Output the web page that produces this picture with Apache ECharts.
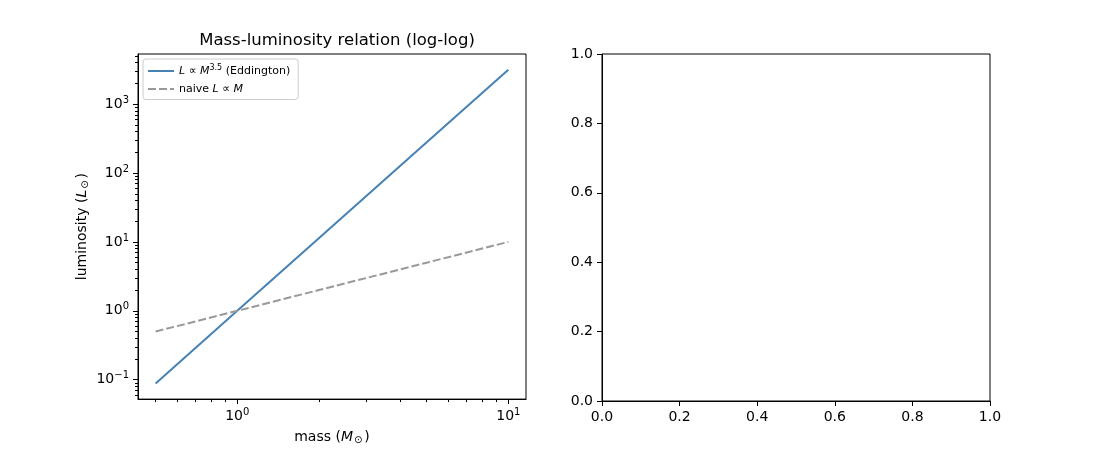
<!DOCTYPE html>
<html>
<head>
<meta charset="utf-8">
<script src="https://cdn.jsdelivr.net/npm/echarts@6/dist/echarts.min.js"></script>
<style>
  html, body { margin: 0; padding: 0; background: #fff; }
  #chart { width: 1100px; height: 450px; }
</style>
</head>
<body>
<div id="chart"></div>
<script>
// data
var massValues = [0.5, 1, 2, 5, 10];
var lumEddington = [0.088, 1, 11.3, 280, 3162];
var lumNaive = [0.5, 1, 2, 5, 10];

// tick values
var xMajorTicks = [1, 10];
var xMinorTicks = [0.5, 0.6, 0.7, 0.8, 0.9, 2, 3, 4, 5, 6, 7, 8, 9];
var yMajorTicks = [0.1, 1, 10, 100, 1000];
var yMinorTicks = [0.06, 0.07, 0.08, 0.09, 0.2, 0.3, 0.4, 0.5, 0.6, 0.7, 0.8, 0.9,
  2, 3, 4, 5, 6, 7, 8, 9, 20, 30, 40, 50, 60, 70, 80, 90,
  200, 300, 400, 500, 600, 700, 800, 900, 2000, 3000, 4000, 5000];

var xRange = [0.4305, 11.62];
var yRange = [0.0523, 5342];

var FONT = 'DejaVu Sans';
var mathRich = {
  b: { fontFamily: FONT, fontSize: 14, color: '#000', lineHeight: 16 },
  s: { fontFamily: FONT, fontSize: 10, color: '#000', lineHeight: 10, padding: [0, 0, 8, 0] }
};

function powLabel(v) {
  var e = Math.round(Math.log(v) / Math.LN10);
  return '{b|10}{s|' + (e < 0 ? '\u2212' + (-e) : e) + '}';
}

function pairSeries(xs, ys) {
  var out = [];
  for (var i = 0; i < xs.length; i++) out.push([xs[i], ys[i]]);
  return out;
}

var legendText = {
  eddington: '{i|L}{t| \u221d }{i|M}{s|3.5}{t| (Eddington)}',
  naive: '{t|naive }{i|L}{t| \u221d }{i|M}'
};

// legend handles: a solid stroke and a dashed one
var solidIcon = 'path://M0,0h26v2h-26z';
var dashedIcon = 'path://M0,0h8v2h-8z M11,0h8v2h-8z M22,0h4v2h-4z';

var myChart = echarts.init(document.getElementById('chart'), null, { renderer: 'canvas' });

var majorLine = { show: true, lineStyle: { color: '#000', width: 1 } };
var nameRich = {
  t: { fontFamily: FONT, fontSize: 14, color: '#000' },
  i: { fontFamily: FONT, fontSize: 14, fontStyle: 'italic', color: '#000' },
  o: { fontFamily: FONT, fontSize: 10, color: '#000', padding: [6, 2, 0, 1] }
};

var option = {
  animation: false,
  backgroundColor: '#fff',
  textStyle: { fontFamily: FONT },
  title: {
    text: 'Mass-luminosity relation (log-log)',
    left: 332,
    top: 27,
    textAlign: 'center',
    textStyle: { fontFamily: FONT, fontSize: 16.5, fontWeight: 'normal', color: '#000' }
  },
  legend: {
    orient: 'vertical',
    left: 143,
    top: 59,
    padding: [5, 8, 5, 5],
    itemGap: 7,
    itemWidth: 26,
    itemHeight: 10,
    backgroundColor: '#fff',
    borderColor: '#cccccc',
    borderWidth: 1,
    borderRadius: 3,
    data: [
      { name: 'eddington', icon: solidIcon },
      { name: 'naive', icon: dashedIcon }
    ],
    itemStyle: { borderWidth: 0 },
    formatter: function(name) { return legendText[name]; },
    textStyle: {
      rich: {
        t: { fontFamily: FONT, fontSize: 11, color: '#000' },
        i: { fontFamily: FONT, fontSize: 11, fontStyle: 'italic', color: '#000' },
        s: { fontFamily: FONT, fontSize: 8, color: '#000', padding: [0, 0, 6, 0] }
      }
    }
  },
  grid: [
    { left: 138, top: 54, width: 388, height: 347, show: true, borderColor: '#000', borderWidth: 1, backgroundColor: 'transparent' },
    { left: 602, top: 54, width: 388, height: 347, show: true, borderColor: '#000', borderWidth: 1, backgroundColor: 'transparent' }
  ],
  xAxis: [
    {
      type: 'log', gridIndex: 0, position: 'bottom', logBase: 10, min: xRange[0], max: xRange[1],
      axisLine: majorLine,
      axisTick: { show: true, inside: false, length: 5, customValues: xMajorTicks, lineStyle: { color: '#000' } },
      axisLabel: { show: true, margin: 9, customValues: xMajorTicks, formatter: powLabel, rich: mathRich },
      splitLine: { show: false },
      name: '{t|mass (}{i|M}{o|\u2299}{t|)}',
      nameLocation: 'middle',
      nameGap: 28,
      nameTextStyle: { rich: nameRich }
    },
    {
      type: 'log', gridIndex: 0, position: 'bottom', offset: 0, logBase: 10, min: xRange[0], max: xRange[1],
      axisLine: { show: false },
      axisTick: { show: true, inside: false, length: 3, customValues: xMinorTicks, lineStyle: { color: '#000' } },
      axisLabel: { show: false },
      splitLine: { show: false }
    },
    {
      type: 'value', gridIndex: 1, position: 'bottom', min: 0, max: 1, interval: 0.2,
      axisLine: majorLine,
      axisTick: { show: true, inside: false, length: 5, lineStyle: { color: '#000' } },
      axisLabel: { margin: 9, fontFamily: FONT, fontSize: 14, color: '#000', formatter: function(v) { return v.toFixed(1); } },
      splitLine: { show: false }
    }
  ],
  yAxis: [
    {
      type: 'log', gridIndex: 0, position: 'left', logBase: 10, min: yRange[0], max: yRange[1],
      axisLine: majorLine,
      axisTick: { show: true, inside: false, length: 5, customValues: yMajorTicks, lineStyle: { color: '#000' } },
      axisLabel: { show: true, margin: 9, customValues: yMajorTicks, formatter: powLabel, rich: mathRich },
      splitLine: { show: false },
      name: '{t|luminosity (}{i|L}{o|\u2299}{t|)}',
      nameLocation: 'middle',
      nameGap: 48,
      nameTextStyle: { rich: nameRich }
    },
    {
      type: 'log', gridIndex: 0, position: 'left', offset: 0, logBase: 10, min: yRange[0], max: yRange[1],
      axisLine: { show: false },
      axisTick: { show: true, inside: false, length: 3, customValues: yMinorTicks, lineStyle: { color: '#000' } },
      axisLabel: { show: false },
      splitLine: { show: false }
    },
    {
      type: 'value', gridIndex: 1, position: 'left', min: 0, max: 1, interval: 0.2,
      axisLine: majorLine,
      axisTick: { show: true, inside: false, length: 5, lineStyle: { color: '#000' } },
      axisLabel: { margin: 9, fontFamily: FONT, fontSize: 14, color: '#000', formatter: function(v) { return v.toFixed(1); } },
      splitLine: { show: false }
    }
  ],
  series: [
    {
      name: 'eddington',
      type: 'line',
      xAxisIndex: 0, yAxisIndex: 0,
      symbol: 'none',
      data: pairSeries(massValues, lumEddington),
      lineStyle: { color: '#4682b4', width: 2 },
      itemStyle: { color: '#4682b4' }
    },
    {
      name: 'naive',
      type: 'line',
      xAxisIndex: 0, yAxisIndex: 0,
      symbol: 'none',
      data: pairSeries(massValues, lumNaive),
      lineStyle: { color: '#999999', width: 2, type: [8, 3] },
      itemStyle: { color: '#999999' }
    }
  ]
};

myChart.setOption(option);
</script>
</body>
</html>
